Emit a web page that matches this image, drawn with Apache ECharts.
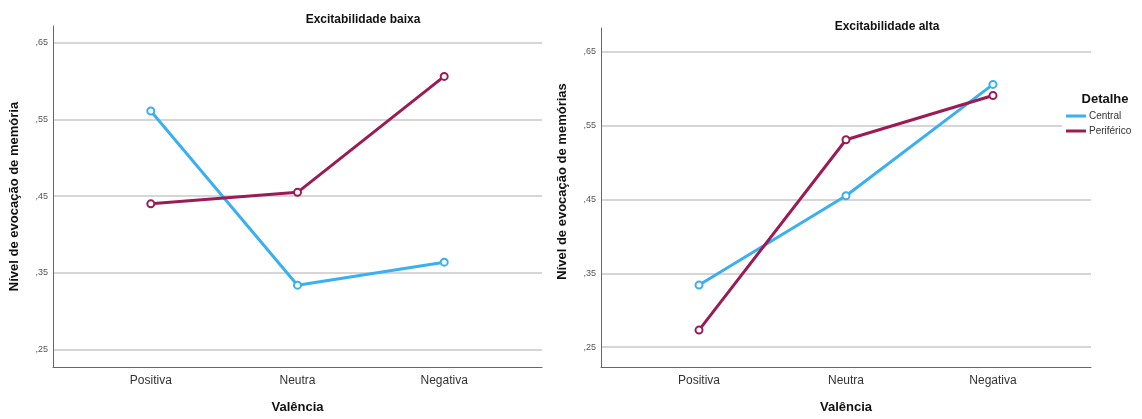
<!DOCTYPE html>
<html>
<head>
<meta charset="utf-8">
<script src="https://cdn.jsdelivr.net/npm/echarts@6/dist/echarts.min.js"></script>
<style>
html,body{margin:0;padding:0;background:#fff;}
#c{width:1142px;height:419px;}
</style>
</head>
<body>
<div id="c"></div>
<script>
const categories = ['Positiva', 'Neutra', 'Negativa'];
const baixaCentral = [0.561, 0.334, 0.364];
const baixaPeriferico = [0.440, 0.455, 0.606];
const altaCentral = [0.334, 0.455, 0.606];
const altaPeriferico = [0.273, 0.531, 0.591];
const yTicks = [0.25, 0.35, 0.45, 0.55, 0.65];
const seriesNames = ['Central', 'Periférico'];

const BLUE = '#3aaff2';
const BLUE_MK = '#72c6f4';
const RED = '#9b1c55';
const RED_MK = '#b54a7b';
const FONT = '"Liberation Sans", Arial, sans-serif';

function pts(vals) { return categories.map((c, i) => [i, vals[i]]); }

function xAxisCfg(gi) {
  return {
    type: 'value', gridIndex: gi, min: -2 / 3, max: 8 / 3,
    name: 'Valência', nameLocation: 'middle', nameGap: 34,
    nameTextStyle: { fontFamily: FONT, fontWeight: 'bold', fontSize: 13, color: '#111' },
    axisLine: { show: true, onZero: false, lineStyle: { color: '#666', width: 1 } },
    axisTick: { show: false },
    splitLine: { show: false },
    axisLabel: {
      customValues: [0, 1, 2],
      formatter: v => categories[Math.round(v)],
      fontFamily: FONT, fontSize: 12, color: '#333', margin: 8
    }
  };
}
function yAxisCfg(gi, min, max, name, pad) {
  return {
    type: 'value', gridIndex: gi, min: min, max: max,
    name: name, nameLocation: 'middle', nameGap: 32,
    nameTextStyle: { fontFamily: FONT, fontWeight: 'bold', fontSize: 13, color: '#111', padding: pad },
    axisLine: { show: true, onZero: false, lineStyle: { color: '#666', width: 1 } },
    axisTick: { show: false, customValues: yTicks },
    splitLine: { show: true, lineStyle: { color: '#d6d6d6', width: 2 } },
    axisLabel: {
      customValues: yTicks,
      formatter: v => ',' + Math.round(v * 100),
      fontFamily: FONT, fontSize: 9, color: '#555', margin: 5
    }
  };
}
function lineSeries(name, vals, gi, color, mk) {
  return {
    type: 'line', name: name, xAxisIndex: gi, yAxisIndex: gi,
    data: pts(vals), symbol: 'emptyCircle', symbolSize: 7,
    lineStyle: { color: color, width: 3 },
    itemStyle: { color: color, borderColor: mk, borderWidth: 1.5 },
    z: 3
  };
}

const chart = echarts.init(document.getElementById('c'), null, { renderer: 'canvas' });
chart.setOption({
  backgroundColor: '#fff',
  animation: false,
  title: [
    { text: 'Excitabilidade baixa', left: 358, top: 9, textAlign: 'center',
      textStyle: { fontFamily: FONT, fontWeight: 'bold', fontSize: 12, color: '#111' } },
    { text: 'Excitabilidade alta', left: 882, top: 16, textAlign: 'center',
      textStyle: { fontFamily: FONT, fontWeight: 'bold', fontSize: 12, color: '#111' } },
    { text: 'Detalhe', left: 1100, top: 88, textAlign: 'center',
      textStyle: { fontFamily: FONT, fontWeight: 'bold', fontSize: 13, color: '#111' } }
  ],
  legend: {
    data: seriesNames.map(n => ({ name: n, icon: 'rect' })),
    orient: 'vertical', left: 1062, top: 109,
    padding: [2, 6, 2, 4],
    backgroundColor: '#fff',
    itemWidth: 20, itemHeight: 3, itemGap: 5,
    itemStyle: { borderWidth: 0 },
    textStyle: { fontFamily: FONT, fontSize: 10, color: '#333', padding: [0, 0, 0, -2] }
  },
  grid: [
    { left: 53, right: 600, top: 26, bottom: 51, containLabel: false },
    { left: 601, right: 51, top: 28, bottom: 51, containLabel: false }
  ],
  xAxis: [xAxisCfg(0), xAxisCfg(1)],
  yAxis: [
    yAxisCfg(0, 0.2274, 0.6717, 'Nível de evocação de memória', [0, 0, 0, 0]),
    yAxisCfg(1, 0.223, 0.6824, 'Nível de evocação de memórias', [0, 0, 0, 32])
  ],
  series: [
    lineSeries('Central', baixaCentral, 0, BLUE, BLUE_MK),
    lineSeries('Periférico', baixaPeriferico, 0, RED, RED_MK),
    lineSeries('Central', altaCentral, 1, BLUE, BLUE_MK),
    lineSeries('Periférico', altaPeriferico, 1, RED, RED_MK)
  ]
});
</script>
</body>
</html>
